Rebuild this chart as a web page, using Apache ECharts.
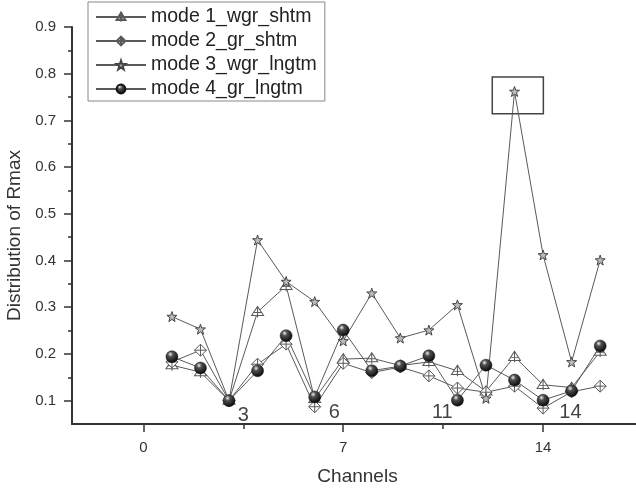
<!DOCTYPE html>
<html>
<head>
<meta charset="utf-8">
<script src="https://cdn.jsdelivr.net/npm/echarts@6/dist/echarts.min.js"></script>
<style>
  html, body { margin: 0; padding: 0; background: #fff; }
  #chart { width: 636px; height: 489px; }
</style>
</head>
<body>
<div id="chart"></div>
<script>
// Channel numbers along the x axis
const channels = [1, 2, 3, 4, 5, 6, 7, 8, 9, 10, 11, 12, 13, 14, 15, 16];

// Distribution of Rmax per channel, one array per operating mode
const mode1WgrShtm = [0.176, 0.161, 0.100, 0.290, 0.346, 0.104, 0.189, 0.191, 0.175, 0.183, 0.164, 0.120, 0.194, 0.134, 0.128, 0.205];
const mode2GrShtm  = [0.183, 0.208, 0.100, 0.178, 0.221, 0.087, 0.180, 0.160, 0.172, 0.153, 0.127, 0.118, 0.131, 0.084, 0.119, 0.131];
const mode3WgrLngtm = [0.280, 0.253, 0.100, 0.444, 0.355, 0.312, 0.228, 0.330, 0.234, 0.251, 0.305, 0.105, 0.762, 0.412, 0.183, 0.401];
const mode4GrLngtm = [0.194, 0.170, 0.100, 0.164, 0.239, 0.108, 0.251, 0.164, 0.174, 0.196, 0.101, 0.176, 0.144, 0.101, 0.121, 0.217];

const seriesNames = ['mode 1_wgr_shtm', 'mode 2_gr_shtm', 'mode 3_wgr_lngtm', 'mode 4_gr_lngtm'];

// Axis ticks and labels
const xMajorTicks = [0, 7, 14];
const xMinorTicks = [3.5, 10.5, 17.5];
const yMajorTicks = [0.1, 0.2, 0.3, 0.4, 0.5, 0.6, 0.7, 0.8, 0.9];
const yMinorTicks = [0.15, 0.25, 0.35, 0.45, 0.55, 0.65, 0.75, 0.85];

// Channel numbers written beside the low points
const noteLabels = ['3', '6', '11', '14'];
const noteX = [3.5, 6.69, 10.47, 14.96];
const noteY = [0.069, 0.074, 0.074, 0.074];

// Frame around the mode 3 peak (x range, y range)
const peakBoxX = [12.22, 14.01];
const peakBoxY = [0.714, 0.793];

const FONT = '"Liberation Sans", Arial, Helvetica, sans-serif';
const LINE = '#5a5a5a';

const pairs = (ys) => channels.map((c, i) => [c, ys[i]]);

const sym = {
  triangle: 'path://M10 2 L19 17 L1 17 Z M10 2 L10 20 M4 12 L16 12',
  diamond: 'path://M10 0 L20 10 L10 20 L0 10 Z M10 0 L10 20 M0 10 L20 10',
  star: 'path://M10 0 L12.4 7 L20 7.2 L14 11.8 L16.2 19 L10 14.8 L3.8 19 L6 11.8 L0 7.2 L7.6 7 Z'
};

function lineSeries(name, data, symbol, size, itemStyle, extra) {
  return Object.assign({
    name: name,
    type: 'line',
    data: pairs(data),
    symbol: symbol,
    symbolSize: size,
    showAllSymbol: true,
    lineStyle: { color: LINE, width: 1 },
    itemStyle: itemStyle,
    emphasis: { disabled: true },
    animation: false
  }, extra || {});
}

const chart = echarts.init(document.getElementById('chart'), null, { renderer: 'canvas' });

const option = {
  backgroundColor: '#fff',
  textStyle: { fontFamily: FONT },
  animation: false,
  grid: { left: 72, top: 27, width: 571, height: 397, outerBoundsMode: 'none', containLabel: false },
  legend: {
    data: seriesNames,
    orient: 'vertical',
    left: 88,
    top: 2,
    padding: [5, 8, 2, 7],
    itemWidth: 50,
    itemHeight: 11,
    itemGap: 4,
    borderColor: '#888',
    borderWidth: 1,
    backgroundColor: '#fff',
    textStyle: { fontSize: 19.5, color: '#222', fontFamily: FONT },
    selectedMode: false
  },
  xAxis: [
    {
      type: 'value',
      min: -2.5,
      max: 17.5,
      name: 'Channels',
      nameLocation: 'middle',
      nameGap: 43,
      nameTextStyle: { fontSize: 19, color: '#333', fontFamily: FONT },
      axisLine: { show: true, onZero: false, lineStyle: { color: '#333', width: 2 } },
      axisTick: { show: true, inside: false, length: 8, customValues: xMajorTicks, lineStyle: { color: '#333', width: 1.5 } },
      axisLabel: { show: true, customValues: xMajorTicks, fontSize: 15, color: '#333', margin: 16, fontFamily: FONT },
      splitLine: { show: false }
    },
    {
      type: 'value',
      min: -2.5,
      max: 17.5,
      position: 'bottom',
      axisLine: { show: false, onZero: false },
      axisTick: { show: true, inside: false, length: 5, customValues: xMinorTicks, lineStyle: { color: '#333', width: 1.5 } },
      axisLabel: { show: false },
      splitLine: { show: false }
    }
  ],
  yAxis: [
    {
      type: 'value',
      min: 0.05,
      max: 0.9,
      axisLine: { show: true, onZero: false, lineStyle: { color: '#333', width: 2 } },
      axisTick: { show: true, inside: false, length: 8, customValues: yMajorTicks, lineStyle: { color: '#333', width: 1.5 } },
      axisLabel: { show: true, customValues: yMajorTicks, formatter: (v) => v.toFixed(1), fontSize: 15, color: '#333', margin: 16, fontFamily: FONT },
      splitLine: { show: false }
    },
    {
      type: 'value',
      min: 0.05,
      max: 0.9,
      position: 'left',
      axisLine: { show: false, onZero: false },
      axisTick: { show: true, inside: false, length: 4, customValues: yMinorTicks, lineStyle: { color: '#333', width: 1.5 } },
      axisLabel: { show: false },
      splitLine: { show: false }
    }
  ],
  graphic: [
    {
      type: 'text',
      left: 5,
      top: 150,
      rotation: Math.PI / 2,
      style: { text: 'Distribution of Rmax', fontSize: 19, fill: '#333', fontFamily: FONT }
    }
  ],
  series: [
    lineSeries(seriesNames[0], mode1WgrShtm, sym.triangle, [12, 11],
      { color: '#fff', borderColor: LINE, borderWidth: 1 }),
    lineSeries(seriesNames[1], mode2GrShtm, sym.diamond, 12,
      { color: '#fff', borderColor: LINE, borderWidth: 1 }),
    lineSeries(seriesNames[2], mode3WgrLngtm, sym.star, 10,
      { color: '#bbb', borderColor: '#444', borderWidth: 1 },
      {
        markArea: {
          silent: true,
          itemStyle: { color: 'rgba(0,0,0,0)', borderColor: '#444', borderWidth: 1.5 },
          label: { show: false },
          data: [[{ coord: [peakBoxX[0], peakBoxY[1]] }, { coord: [peakBoxX[1], peakBoxY[0]] }]]
        }
      }),
    lineSeries(seriesNames[3], mode4GrLngtm, 'circle', 12,
      {
        color: new echarts.graphic.RadialGradient(0.38, 0.3, 0.75, [
          { offset: 0, color: '#f0f0f0' },
          { offset: 0.28, color: '#505050' },
          { offset: 1, color: '#000' }
        ]),
        borderColor: '#111',
        borderWidth: 0.5
      }),
    {
      name: 'notes',
      type: 'scatter',
      data: noteLabels.map((t, i) => ({ name: t, value: [noteX[i], noteY[i]] })),
      symbolSize: 1,
      itemStyle: { color: 'rgba(0,0,0,0)' },
      label: { show: true, position: 'inside', formatter: (p) => p.name, fontSize: 20, color: '#111', fontFamily: FONT },
      emphasis: { disabled: true },
      silent: true,
      z: 5
    }
  ]
};

chart.setOption(option);
</script>
</body>
</html>
